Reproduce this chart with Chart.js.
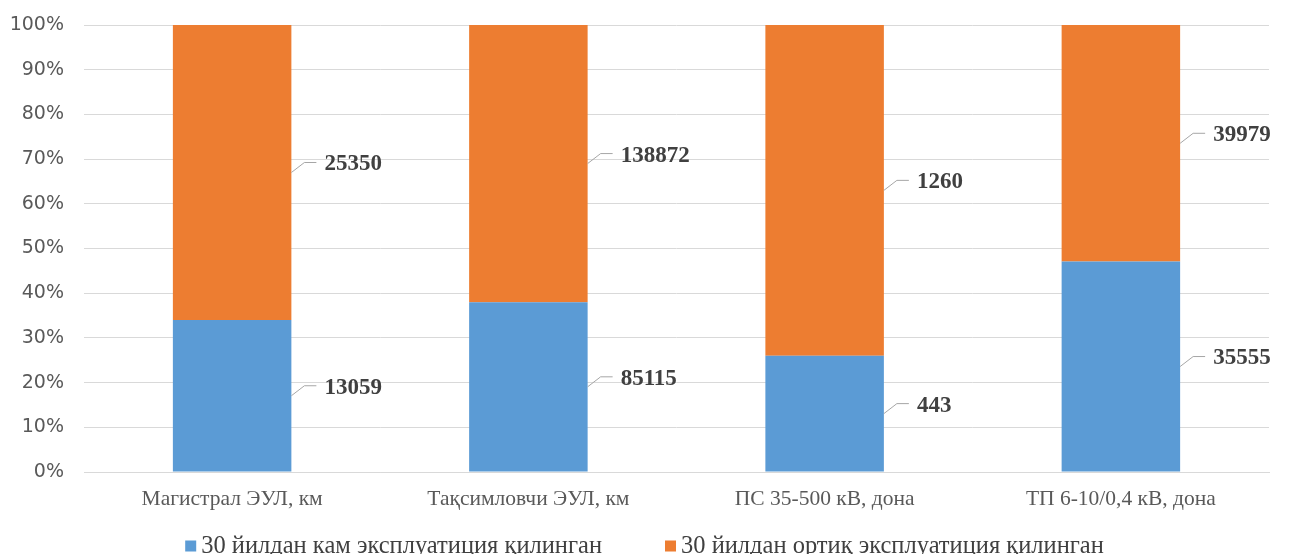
<!DOCTYPE html>
<html>
<head>
<meta charset="utf-8">
<script src="https://cdn.jsdelivr.net/npm/chart.js@4.4.0/dist/chart.umd.min.js"></script>
<style>
  html, body { margin: 0; padding: 0; background: #fff; overflow: hidden; }
</style>
</head>
<body>
<canvas id="myChart" width="1289" height="554"></canvas>
<script>
"use strict";

// data

const categories = ["Магистрал ЭУЛ, км", "Тақсимловчи ЭУЛ, км", "ПС 35-500 кВ, дона", "ТП 6-10/0,4 кВ, дона"];
const seriesNames = ["30 йилдан кам эксплуатиция қилинган", "30 йилдан ортиқ эксплуатиция қилинган"];
const under30 = [13059, 85115, 443, 35555];
const over30 = [25350, 138872, 1260, 39979];
const yTicks = [0, 10, 20, 30, 40, 50, 60, 70, 80, 90, 100];

const colors = ["#5B9BD5", "#ED7D31"];
const serif = "'Liberation Serif', 'Times New Roman', serif";

// share of each column, in percent

function share(values) {
  return values.map((v, i) => v / (under30[i] + over30[i]) * 100);
}

const rawValues = [under30, over30];

// value labels with leader lines

const valueLabels = {
  id: "valueLabels",
  afterDatasetsDraw(chart) {
    const ctx = chart.ctx;
    ctx.save();
    chart.data.datasets.forEach((ds, d) => {
      chart.getDatasetMeta(d).data.forEach((bar, i) => {
        const right = bar.x + bar.width / 2;
        const mid = (bar.y + bar.base) / 2;
        ctx.strokeStyle = "#a6a6a6";
        ctx.lineWidth = 1;
        ctx.beginPath();
        ctx.moveTo(right, mid);
        ctx.lineTo(right + 13, mid - 10);
        ctx.lineTo(right + 25, mid - 10);
        ctx.stroke();
        ctx.fillStyle = "#404040";
        ctx.font = "bold 23px " + serif;
        ctx.textBaseline = "middle";
        ctx.textAlign = "left";
        ctx.fillText(String(rawValues[d][i]), right + 33, mid - 8);
      });
    });
    ctx.restore();
  }
};

// legend at the bottom

const bottomLegend = {
  id: "bottomLegend",
  afterDraw(chart) {
    const ctx = chart.ctx;
    ctx.save();
    ctx.font = "24.5px " + serif;
    const box = 11, gap = 5, between = 63;
    const widths = seriesNames.map(n => ctx.measureText(n).width);
    let total = 0;
    widths.forEach(w => total += box + gap + w);
    total += between * (seriesNames.length - 1);
    let x = (chart.width - total) / 2;
    const y = 546;
    seriesNames.forEach((n, i) => {
      ctx.fillStyle = colors[i];
      ctx.fillRect(x, y - box / 2, box, box);
      ctx.fillStyle = "#404040";
      ctx.textBaseline = "middle";
      ctx.textAlign = "left";
      ctx.fillText(n, x + box + gap, y + 1);
      x += box + gap + widths[i] + between;
    });
    ctx.restore();
  }
};

const data = {
  labels: categories,
  datasets: [
    { label: seriesNames[0], data: share(under30), backgroundColor: colors[0] },
    { label: seriesNames[1], data: share(over30), backgroundColor: colors[1] }
  ]
};

const config = {
  type: "bar",
  data: data,
  options: {
    responsive: false,
    animation: false,
    categoryPercentage: 1,
    barPercentage: 0.4,
    layout: { padding: { top: 25, right: 20, left: 0, bottom: 0 } },
    plugins: {
      legend: { display: false },
      tooltip: { enabled: false }
    },
    scales: {
      x: {
        stacked: true,
        grid: { display: false, drawTicks: false },
        border: { color: "#d9d9d9" },
        ticks: { color: "#595959", padding: 14, font: { family: serif, size: 21.5 } },
        afterFit(scale) { scale.height = 82; }
      },
      y: {
        stacked: true,
        min: 0,
        max: 100,
        afterBuildTicks(scale) { scale.ticks = yTicks.map(v => ({ value: v })); },
        grid: { color: "#d9d9d9", drawTicks: false },
        border: { display: false },
        ticks: {
          color: "#595959",
          padding: 20,
          font: { family: "'DejaVu Sans', Verdana, sans-serif", size: 19 },
          callback: v => v + "%"
        },
        afterFit(scale) {
          scale.width = 84;
          scale.paddingTop = 10;
          scale.paddingBottom = 10;
        }
      }
    }
  },
  plugins: [valueLabels, bottomLegend]
};

// rendering

const myChart = new Chart(document.getElementById("myChart"), config);
</script>
</body>
</html>
